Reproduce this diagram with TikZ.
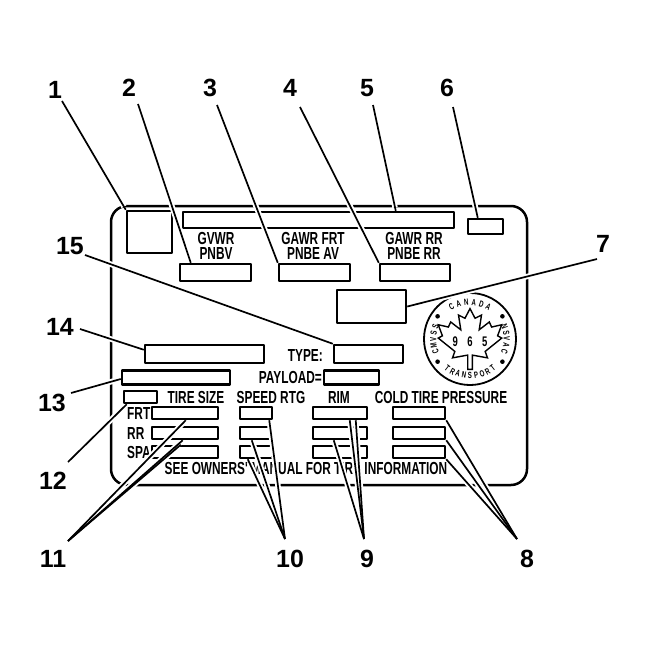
\documentclass[tikz,border=0pt]{standalone}
\usepackage{fontspec}
\setmainfont{Liberation Sans}
\newfontfamily\platefont[FakeStretch=0.68]{Liberation Sans}
\usetikzlibrary{calc}

\tikzset{
	box/.style = {draw, line width = 2.5bp, inner sep = 0pt},
	plate text/.style = {font = \platefont\bfseries\fontsize{17.5}{14.5}\selectfont, inner sep = 0pt, align = center},
	callout/.style = {font = \bfseries\fontsize{25}{25}\selectfont, inner sep = 0pt},
	seal text/.style = {font = \platefont\bfseries\fontsize{9}{9}\selectfont, inner sep = 0pt},
	halo/.style = {white, line width = 5.5bp, shorten > = 3.5bp},
	leader/.style = {line width = 1.7bp},
}

\begin{document}
\begin{tikzpicture}[x = 1bp, y = -1bp, line join = round]
		\useasboundingbox (0,0) rectangle (648,647);

		\draw [line width = 2.5bp, rounded corners = 16bp] (111,206) rectangle (527,485);

		\node [box, minimum width = 45bp, minimum height = 42bp] (sq) at (149.5,232) {};
		\node [box, minimum width = 271bp, minimum height = 16bp] (b5) at (318.5,220) {};
		\node [box, minimum width = 35bp, minimum height = 15bp] (b6) at (485.5,226.5) {};
		\node [box, minimum width = 71bp, minimum height = 17bp] (b2) at (215.5,272.5) {};
		\node [box, minimum width = 71bp, minimum height = 17bp] (b3) at (314.5,272.5) {};
		\node [box, minimum width = 70bp, minimum height = 17bp] (b4) at (415,272.5) {};
		\node [box, minimum width = 69bp, minimum height = 33bp] (b7) at (371.5,306.5) {};
		\node [box, minimum width = 69bp, minimum height = 18bp] (b15) at (368.5,354) {};
		\node [box, minimum width = 119bp, minimum height = 18bp] (b14) at (204.5,354) {};
		\node [box, minimum width = 108bp, minimum height = 14bp] (b13) at (176,377.5) {};
		\node [box, minimum width = 55bp, minimum height = 14bp] (bPay) at (351.5,377.5) {};
		\node [box, minimum width = 33bp, minimum height = 12bp] (b12) at (140.5,397) {};

		\foreach \r/\y in {F/413, R/433, S/452} {
			\node [box, minimum width = 66bp, minimum height = 12bp] (ts\r) at (185,\y) {};
			\node [box, minimum width = 32bp, minimum height = 12bp] (sp\r) at (256,\y) {};
			\node [box, minimum width = 54bp, minimum height = 12bp] (rm\r) at (340,\y) {};
			\node [box, minimum width = 52bp, minimum height = 12bp] (pr\r) at (419,\y) {};
		}

		\node [plate text] (tGvwr) at (216,246) {GVWR\\PNBV};
		\node [plate text] (tGawrF) at (313,246) {GAWR FRT\\PNBE AV};
		\node [plate text] (tGawrR) at (414,246) {GAWR RR\\PNBE RR};
		\node [plate text, anchor = east] (tType) at (323,355) {TYPE:};
		\node [plate text, anchor = east] (tPay) at (322,377.5) {PAYLOAD=};
		\node [plate text] (hTire) at (196,397) {TIRE SIZE};
		\node [plate text] (hSpeed) at (271,397) {SPEED RTG};
		\node [plate text] (hRim) at (339,397) {RIM};
		\node [plate text] (hCold) at (441,397) {COLD TIRE PRESSURE};
		\node [plate text, anchor = west] (tFrt) at (127,413) {FRT};
		\node [plate text, anchor = west] (tRr) at (127,433) {RR};
		\node [plate text, anchor = west] (tSpa) at (127,452) {SPA};
		\node [plate text] (tSee) at (306,468) {SEE OWNERS' MANUAL FOR TIRE INFORMATION};

		% seal
		\begin{scope}[shift = {(470,339)}, x = 46bp, y = 46bp]
			\draw [line width = 1.8bp] (0,0) circle [radius = 1];
			\foreach \ang in {35,145,215,325}
				\fill (\ang:0.86) circle [radius = 0.05];
			\foreach \ch [count = \i] in {C,A,N,A,D,A}
				\node [seal text, rotate = {30-(\i-1)*12}] at ({120-(\i-1)*12}:0.8) {\ch};
			\foreach \ch [count = \i] in {C,M,V,S,S}
				\node [seal text, rotate = {110-(\i-1)*10}] at ({200-(\i-1)*10}:0.8) {\ch};
			\foreach \ch [count = \i] in {N,S,V,A,C}
				\node [seal text, rotate = {-70-(\i-1)*10}] at ({20-(\i-1)*10}:0.8) {\ch};
			\foreach \ch [count = \i] in {T,R,A,N,S,P,O,R,T}
				\node [seal text, rotate = {322+(\i-1)*9.5}] at ({232+(\i-1)*9.5}:0.8) {\ch};
			\draw [line width = 1.4bp, line join = miter] (0,0.66) -- (0.11,0.45) -- (0.25,0.52) -- (0.2,0.2) -- (0.42,0.37) -- (0.47,0.26) -- (0.69,0.31) -- (0.6,0.07) -- (0.69,0.02) -- (0.33,-0.27) -- (0.38,-0.41) -- (0.05,-0.35) -- (0.05,-0.66)
				-- (-0.05,-0.66) -- (-0.05,-0.35) -- (-0.38,-0.41) -- (-0.33,-0.27) -- (-0.69,0.02) -- (-0.6,0.07) -- (-0.69,0.31) -- (-0.47,0.26) -- (-0.42,0.37) -- (-0.2,0.2) -- (-0.25,0.52) -- (-0.11,0.45) -- cycle;
			\foreach \d/\xx in {9/-0.32, 6/0, 5/0.32}
				\node [seal text, font = \platefont\bfseries\fontsize{14}{14}\selectfont] (d\d) at (\xx,-0.06) {\d};
		\end{scope}

		\node [callout] (n1) at (55,90) {1};
		\node [callout] (n2) at (129,88) {2};
		\node [callout] (n3) at (210,88) {3};
		\node [callout] (n4) at (290,88) {4};
		\node [callout] (n5) at (367,88) {5};
		\node [callout] (n6) at (447,88) {6};
		\node [callout] (n7) at (603,244) {7};
		\node [callout] (n8) at (527,559) {8};
		\node [callout] (n9) at (367,559) {9};
		\node [callout] (n10) at (290,559) {10};
		\node [callout] (n11) at (53,559) {11};
		\node [callout] (n12) at (53,481) {12};
		\node [callout] (n13) at (52,403) {13};
		\node [callout] (n14) at (60,327) {14};
		\node [callout] (n15) at (70,246) {15};

		\coordinate (s1) at (62,101);
		\coordinate (s2) at (138,104);
		\coordinate (s3) at (217,105);
		\coordinate (s4) at (300,107);
		\coordinate (s5) at (373,105);
		\coordinate (s6) at (453,107);
		\coordinate (s7) at (597,259);
		\coordinate (s8) at (517,539);
		\coordinate (s9) at (364,539);
		\coordinate (s10) at (285,539);
		\coordinate (s11) at (68,541);
		\coordinate (s12) at (68,462);
		\coordinate (s13) at (71,393);
		\coordinate (s14) at (80,329);
		\coordinate (s15) at (85,255);

		\coordinate (e1) at (sq.north west);
		\coordinate (e2) at ($(b2.north west)+(12,0)$);
		\coordinate (e3) at (b3.north west);
		\coordinate (e4) at (b4.north west);
		\coordinate (e5) at ($(b5.north west)+(214,0)$);
		\coordinate (e6) at ($(b6.north west)+(11,0)$);
		\coordinate (e7) at (b7.east);
		\coordinate (e8a) at (prF.south east);
		\coordinate (e8b) at (prR.south east);
		\coordinate (e8c) at (prS.south east);
		\coordinate (e9a) at ($(rmF.south west)+(38,0)$);
		\coordinate (e9b) at ($(rmF.south west)+(44,0)$);
		\coordinate (e9c) at ($(rmR.south west)+(22,0)$);
		\coordinate (e10a) at ($(spF.south east)+(-4,0)$);
		\coordinate (e10b) at ($(spR.south west)+(13,0)$);
		\coordinate (e10c) at ($(spS.south west)+(9,0)$);
		\coordinate (e11a) at ($(tsF.south west)+(35,0)$);
		\coordinate (e11b) at ($(tsR.south west)+(32,0)$);
		\coordinate (e11c) at ($(tsS.north west)+(30,0)$);
		\coordinate (e12) at ($(b12.south west)+(4,0)$);
		\coordinate (e13) at ($(b13.west)+(0,1.5)$);
		\coordinate (e14) at ($(b14.north west)+(0,6)$);
		\coordinate (e15) at (b15.north west);

		\def\leaders{s1/e1, s2/e2, s3/e3, s4/e4, s5/e5, s6/e6, s7/e7, s8/e8a, s8/e8b, s8/e8c, s9/e9a, s9/e9b, s9/e9c, s10/e10a, s10/e10b, s10/e10c, s11/e11a, s11/e11b, s11/e11c, s12/e12, s13/e13, s14/e14, s15/e15}
		\foreach \s/\e in \leaders
			\draw [halo] (\s) -- (\e);
		\foreach \s/\e in \leaders
			\draw [leader] (\s) -- (\e);
	\end{tikzpicture}
\end{document}
